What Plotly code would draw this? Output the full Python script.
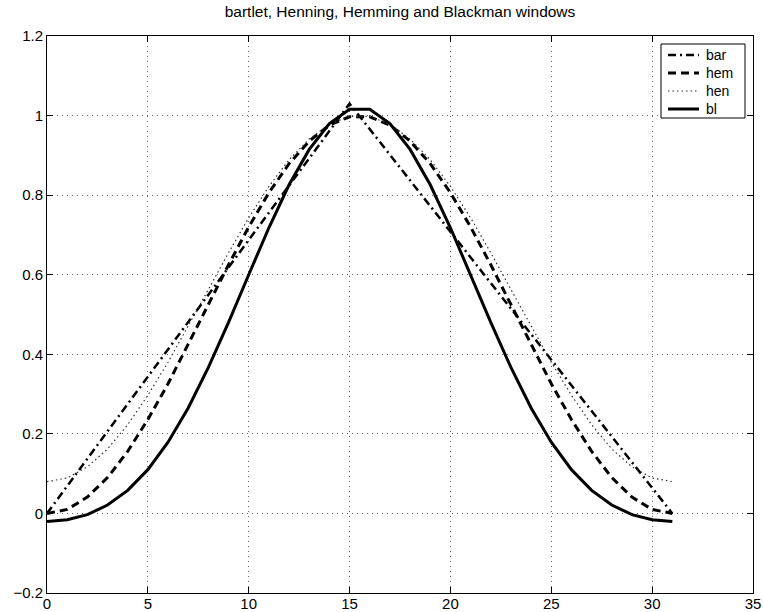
import plotly.graph_objects as go

n = list(range(32))

bar = [0.0, 0.069, 0.137, 0.206, 0.275, 0.344, 0.412, 0.481, 0.55, 0.618,
       0.687, 0.756, 0.824, 0.893, 0.962, 1.03,
       0.966, 0.901, 0.837, 0.773, 0.708, 0.644, 0.579, 0.515, 0.451,
       0.386, 0.322, 0.258, 0.193, 0.129, 0.064, 0.0]

hem = [0.0, 0.010, 0.041, 0.090, 0.156, 0.236, 0.326, 0.424, 0.525, 0.625,
       0.720, 0.806, 0.879, 0.936, 0.976, 0.997,
       0.997, 0.976, 0.936, 0.879, 0.806, 0.720, 0.625, 0.525, 0.424,
       0.326, 0.236, 0.156, 0.090, 0.041, 0.010, 0.0]

hen = [0.080, 0.089, 0.117, 0.162, 0.223, 0.297, 0.380, 0.470, 0.563, 0.655,
       0.743, 0.822, 0.889, 0.941, 0.978, 0.998,
       0.998, 0.978, 0.941, 0.889, 0.822, 0.743, 0.655, 0.563, 0.470,
       0.380, 0.297, 0.223, 0.162, 0.117, 0.089, 0.080]

bl = [-0.020, -0.016, -0.003, 0.021, 0.058, 0.110, 0.179, 0.265, 0.367, 0.480,
      0.600, 0.718, 0.826, 0.915, 0.980, 1.016,
      1.016, 0.980, 0.915, 0.826, 0.718, 0.600, 0.480, 0.367, 0.265,
      0.179, 0.110, 0.058, 0.021, -0.003, -0.016, -0.020]

x_ticks = [0, 5, 10, 15, 20, 25, 30, 35]
y_ticks = [-0.2, 0, 0.2, 0.4, 0.6, 0.8, 1, 1.2]
y_labels = ["\u22120.2", "0", "0.2", "0.4", "0.6", "0.8", "1", "1.2"]

series_names = ["bar", "hem", "hen", "bl"]
series_values = [bar, hem, hen, bl]

FONT = "Liberation Sans, Arial, Helvetica, sans-serif"

line_styles = [
    dict(color="black", width=2.5, dash="8px,4px,2px,4px"),
    dict(color="black", width=3, dash="8px,5px"),
    dict(color="#333333", width=1.2, dash="1.5px,3px"),
    dict(color="black", width=3),
]

fig = go.Figure()
for name, vals, style in zip(series_names, series_values, line_styles):
    fig.add_trace(go.Scatter(x=n, y=vals, name=name, mode="lines",
                             line=style, showlegend=False))

axis_common = dict(
    showline=True, linecolor="black", linewidth=1, mirror="ticks",
    ticks="inside", ticklen=6, tickcolor="black", tickwidth=1,
    showgrid=True, gridcolor="#666666", gridwidth=1, griddash="1px,4px",
    zeroline=False, automargin=False,
    tickfont=dict(family=FONT, size=15, color="black"),
)

fig.update_xaxes(range=[0, 35], tickvals=x_ticks, ticktext=[str(v) for v in x_ticks],
                 ticklabelstandoff=-3, **axis_common)
fig.update_yaxes(range=[-0.2, 1.2], tickvals=y_ticks, ticktext=y_labels,
                 **axis_common)

# Manual legend box (paper coordinates of the plotting area)
L, T, PW, PH = 47, 36, 706, 557


def px_x(p):
    return (p - L) / PW


def px_y(p):
    return (T + PH - p) / PH


shapes = [dict(type="rect", xref="paper", yref="paper",
               x0=px_x(661), x1=px_x(745), y0=px_y(118), y1=px_y(44),
               line=dict(color="black", width=1), fillcolor="white", layer="above")]
annotations = []
row_y = [55, 73, 91, 109]
for name, style, ry in zip(series_names, line_styles, row_y):
    shapes.append(dict(type="line", xref="paper", yref="paper",
                       x0=px_x(668), x1=px_x(699), y0=px_y(ry), y1=px_y(ry),
                       line=style, layer="above"))
    annotations.append(dict(text=name, xref="paper", yref="paper",
                            x=px_x(704), y=px_y(ry), xanchor="left", yanchor="middle",
                            showarrow=False,
                            font=dict(family=FONT, size=14, color="black")))

fig.update_layout(
    width=763, height=612,
    margin=dict(l=47, r=10, t=36, b=19),
    paper_bgcolor="white", plot_bgcolor="white",
    title=dict(text="bartlet, Henning, Hemming and Blackman windows",
               x=0.5, xanchor="center", xref="paper",
               y=1 - 12 / 612, yanchor="middle", yref="container",
               font=dict(family=FONT, size=15.5, color="black")),
    shapes=shapes,
    annotations=annotations,
    showlegend=False,
)

fig.write_html("out.html")
